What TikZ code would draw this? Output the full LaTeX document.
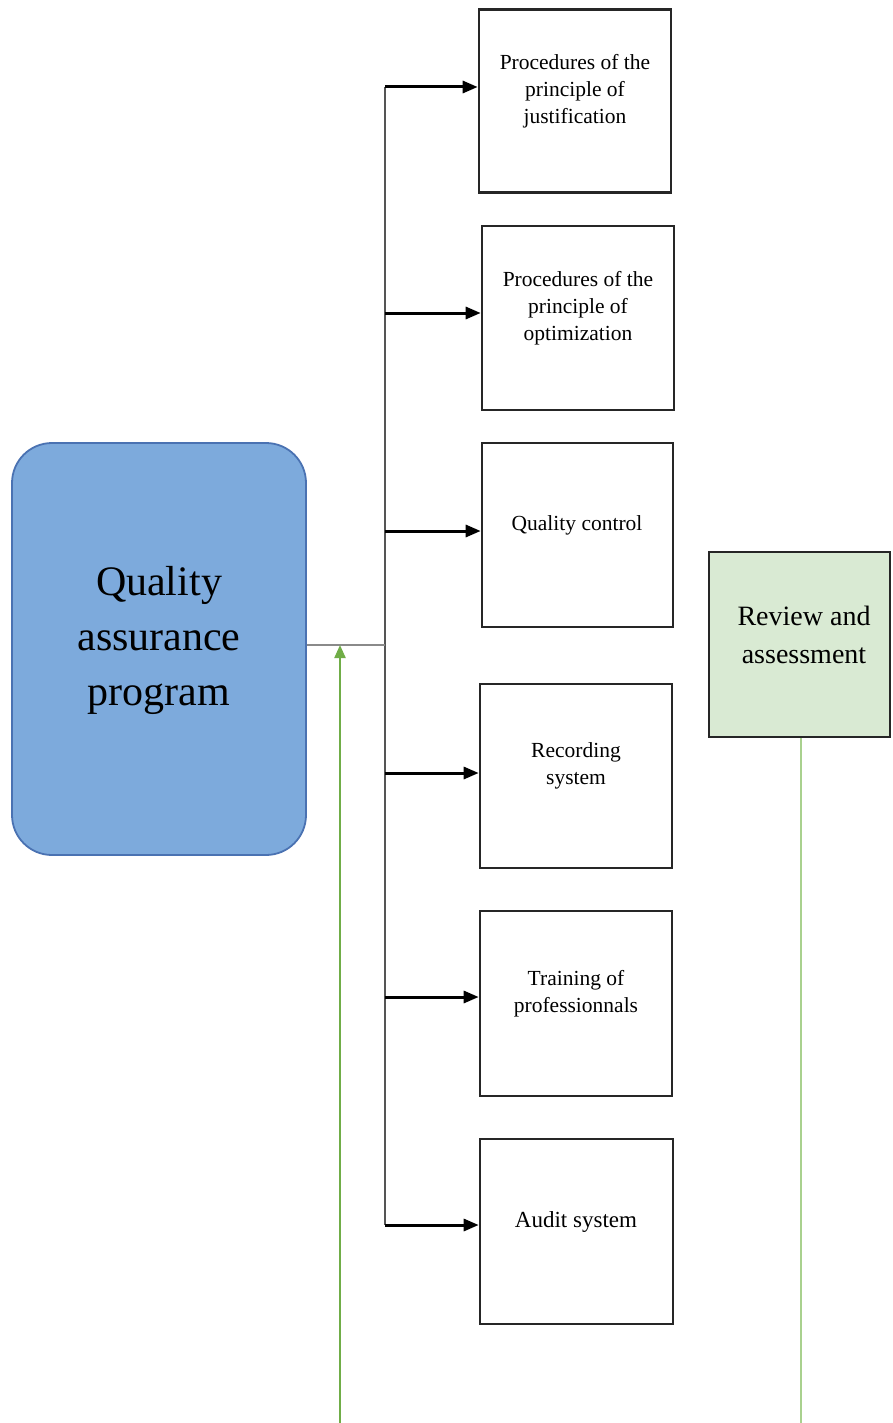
\documentclass[tikz,border=0pt]{standalone}
\usepackage{fontspec}
\setmainfont{Liberation Serif}
\usetikzlibrary{arrows.meta}
\definecolor{qblue}{HTML}{7DAADC}
\definecolor{qbluedark}{HTML}{4A72B2}
\definecolor{rgreen}{HTML}{D9EAD3}
\definecolor{lgreen}{HTML}{A9D18E}
\definecolor{dgreen}{HTML}{70AD47}
\definecolor{trunkgray}{HTML}{555555}
\definecolor{linkgray}{HTML}{8A8A8A}
\tikzset{
  stepbox/.style={draw=black!85, line width=2.6pt, fill=white, inner sep=0pt,
    minimum width=192pt, minimum height=184pt},
  boxtext/.style={font=\fontsize{21.5}{27}\selectfont, align=center},
  arr/.style={line width=3pt, black, -{Triangle[length=15pt,width=12pt]}},
  trunk/.style={line width=2.4pt, trunkgray},
  garrow/.style={line width=2.2pt, dgreen, -{Triangle[length=13pt,width=11pt]}},
}
\begin{document}
\begin{tikzpicture}[x=1pt,y=-1pt]
\useasboundingbox (0,0) rectangle (892,1423);
\fill[white] (0,0) rectangle (892,1423);

% main box
\node[draw=qbluedark, fill=qblue, line width=1.8pt, rounded corners=40pt,
  minimum width=294pt, minimum height=412pt, inner sep=0pt] (qa) at (159,649) {};
\node[font=\fontsize{42}{55}\selectfont, align=center] (qat) at (159,640)
  {Quality\\assurance\\program};

% step boxes
\node[stepbox, minimum height=183pt] (b1) at (575,101) {};
\node[stepbox] (b2) at (578,318) {};
\node[stepbox, minimum width=191pt] (b3) at (577.5,535) {};
\node[stepbox] (b4) at (576,776) {};
\node[stepbox, minimum height=185pt] (b5) at (576,1003.5) {};
\node[stepbox, minimum width=193pt, minimum height=185pt] (b6) at (576.5,1231.5) {};

\node[boxtext] (t1) at (575,91) {Procedures of the\\principle of\\justification};
\node[boxtext] (t2) at (578,308) {Procedures of the\\principle of\\optimization};
\node[boxtext] (t3) at (577,525) {Quality control};
\node[boxtext] (t4) at (576,766) {Recording\\system};
\node[boxtext] (t5) at (576,994) {Training of\\professionnals};
\node[boxtext, font=\fontsize{23}{28}\selectfont] (t6) at (576,1222) {Audit system};

% review box
\node[draw=black!85, fill=rgreen, line width=2.6pt, inner sep=0pt,
  minimum width=181pt, minimum height=185pt] (rev) at (799.5,644.5) {};
\node[font=\fontsize{28}{38}\selectfont, align=center] (revt) at (804,635)
  {Review and\\assessment};

% trunk and branches
\coordinate (jn) at (385,645);
\coordinate (a1) at (385,87);
\coordinate (a2) at (385,313);
\coordinate (a3) at (385,531);
\coordinate (a4) at (385,773);
\coordinate (a5) at (385,997);
\coordinate (a6) at (385,1225);
\draw[trunk] (a1) -- (a6);
\draw[line width=2.2pt, linkgray] (jn -| qa.east) -- (jn);
\draw[arr] (a1) -- (a1 -| b1.west);
\draw[arr] (a2) -- (a2 -| b2.west);
\draw[arr] (a3) -- (a3 -| b3.west);
\draw[arr] (a4) -- (a4 -| b4.west);
\draw[arr] (a5) -- (a5 -| b5.west);
\draw[arr] (a6) -- (a6 -| b6.west);

% green feedback lines
\coordinate (gb) at (340,1423);
\draw[garrow] (gb) -- (gb |- jn);
\coordinate (rb) at (801,1423);
\draw[line width=2.2pt, lgreen] (rev.south -| rb) -- (rb);
\end{tikzpicture}
\end{document}
